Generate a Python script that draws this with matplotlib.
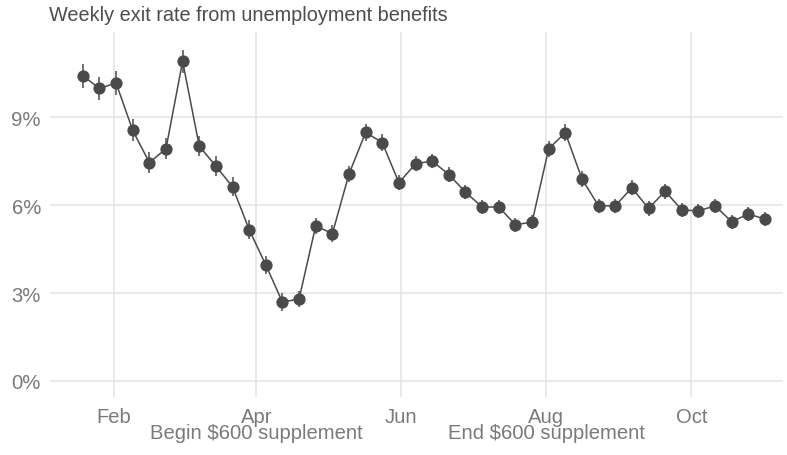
import matplotlib
matplotlib.use("Agg")
import matplotlib.pyplot as plt
import numpy as np
import pandas as pd

# weekly exit rate (%), weeks starting 2020-01-19
weeks = pd.date_range("2020-01-19", periods=42, freq="7D")
exit_rate = [10.43, 9.99, 10.18, 8.56, 7.46, 7.93, 10.92, 8.02, 7.34, 6.63,
             5.17, 3.96, 2.69, 2.80, 5.30, 5.03, 7.07, 8.49, 8.14, 6.77,
             7.42, 7.51, 7.05, 6.45, 5.94, 5.94, 5.34, 5.42, 7.93, 8.48,
             6.90, 5.98, 5.98, 6.60, 5.89, 6.48, 5.84, 5.81, 5.98, 5.44,
             5.70, 5.53]
err = [0.41, 0.38, 0.40, 0.38, 0.36, 0.36, 0.40, 0.34, 0.33, 0.33,
       0.32, 0.30, 0.30, 0.28, 0.28, 0.28, 0.28, 0.30, 0.28, 0.26,
       0.25, 0.25, 0.25, 0.25, 0.24, 0.24, 0.24, 0.24, 0.28, 0.28,
       0.26, 0.24, 0.24, 0.26, 0.24, 0.25, 0.24, 0.24, 0.25, 0.24,
       0.24, 0.24]

tick_dates = pd.to_datetime(["2020-02-01", "2020-04-01", "2020-06-01",
                             "2020-08-01", "2020-10-01"])
tick_labels = ["Feb", "Apr\nBegin \\$600 supplement", "Jun",
               "Aug\nEnd \\$600 supplement", "Oct"]
y_ticks = [0, 3, 6, 9]

plt.rcParams['font.family'] = ['Liberation Sans', 'DejaVu Sans']

W, H = 787, 456
fig = plt.figure(figsize=(W / 100, H / 100), dpi=100)
ax = fig.add_axes([50 / W, (H - 398) / H, (783 - 50) / W, (398 - 33) / H])

col = '#4a4a4a'
ax.errorbar(weeks, exit_rate, yerr=err, fmt='none', ecolor=col, elinewidth=1.1, zorder=3)
ax.plot(weeks, exit_rate, color=col, linewidth=1.1, zorder=4)
ax.plot(weeks, exit_rate, 'o', color=col, markersize=7.8, zorder=5)

ax.set_xlim(pd.Timestamp("2020-01-05 05:00"), pd.Timestamp("2020-11-08 14:00"))
ax.set_ylim(-0.55, 11.92)

ax.set_xticks(tick_dates)
ax.set_xticklabels(tick_labels, linespacing=0.85)
ax.set_yticks(y_ticks)
ax.set_yticklabels([f"{v}%" for v in y_ticks])
ax.xaxis.set_minor_locator(plt.NullLocator())

ax.grid(True, color='#e3e3e3', linewidth=1.1)
ax.set_axisbelow(True)
for s in ax.spines.values():
    s.set_visible(False)
ax.tick_params(length=0, labelsize=14.6, labelcolor='#7a7a7a')
ax.tick_params(axis='x', pad=7)
ax.tick_params(axis='y', pad=6.5)

fig.text(49 / W, 1 - 21 / H, "Weekly exit rate from unemployment benefits",
         fontsize=14.3, color='#4d4d4d', va='baseline', ha='left')

fig.savefig("out.png", dpi=100)
